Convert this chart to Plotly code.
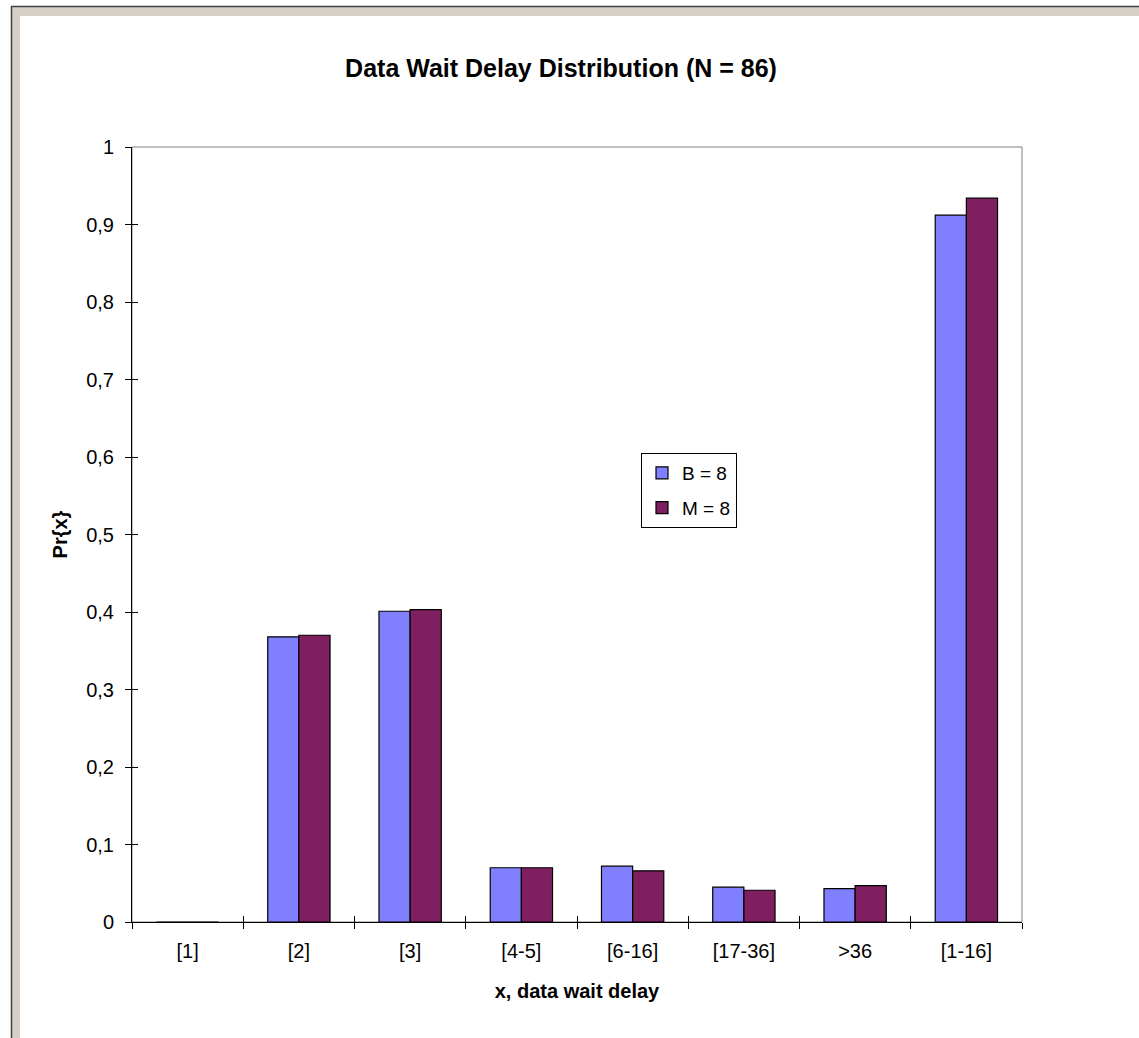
import plotly.graph_objects as go

# Delay buckets and probability per configuration
categories = ["[1]", "[2]", "[3]", "[4-5]", "[6-16]", "[17-36]", ">36", "[1-16]"]
b8_values = [0.0, 0.368, 0.401, 0.070, 0.072, 0.045, 0.043, 0.912]
m8_values = [0.0, 0.370, 0.403, 0.070, 0.066, 0.041, 0.047, 0.934]
y_ticks = [0, 0.1, 0.2, 0.3, 0.4, 0.5, 0.6, 0.7, 0.8, 0.9, 1]

FONT = "Liberation Sans, Arial, sans-serif"
W, H = 1139, 1038
L, R, T, B = 132, 117, 147, 116
pw, ph = W - L - R, H - T - B


def px_x(p):
    return (p - L) / pw


def px_y(p):
    return (H - B - p) / ph


fig = go.Figure()
fig.add_trace(go.Bar(
    x=categories, y=b8_values, name="B = 8", legendgroup="b",
    marker=dict(color="#8080FF", line=dict(color="#000000", width=1.2)),
))
fig.add_trace(go.Bar(
    x=categories, y=m8_values, name="M = 8", legendgroup="m",
    marker=dict(color="#7F1F5F", line=dict(color="#000000", width=1.2)),
))
# helper trace for the overlay axes (inner half of the crossing ticks)
fig.add_trace(go.Scatter(
    x=categories, y=[None] * len(categories), xaxis="x2", yaxis="y2",
    showlegend=False, hoverinfo="skip", mode="markers",
))

fig.update_layout(
    width=W, height=H,
    margin=dict(l=L, r=R, t=T, b=B),
    paper_bgcolor="white", plot_bgcolor="white",
    separators=", ",
    barmode="group", bargap=0.44, bargroupgap=0,
    font=dict(family=FONT, size=19, color="#000000"),
    title=dict(
        text="<b>Data Wait Delay Distribution (N = 86)</b>",
        font=dict(family=FONT, size=25, color="#000000"),
        x=561 / W, xref="container", xanchor="center",
        y=1 - 68 / H, yref="container", yanchor="middle",
    ),
    xaxis=dict(
        type="category", categoryorder="array", categoryarray=categories,
        range=[-0.5, len(categories) - 0.5],
        showline=True, linecolor="#000000", linewidth=1,
        ticks="outside", tickson="boundaries", ticklen=6, tickcolor="#000000",
        ticklabelstandoff=11, tickfont=dict(size=20),
        showgrid=False, zeroline=False,
        title=dict(text="<b>x, data wait delay</b>", standoff=22,
                   font=dict(family=FONT, size=20)),
    ),
    yaxis=dict(
        range=[0, 1], tickvals=y_ticks, tickformat=".1~f",
        showline=True, linecolor="#000000", linewidth=1,
        ticks="outside", ticklen=6, tickcolor="#000000",
        ticklabelstandoff=7, tickfont=dict(size=20),
        showgrid=False, zeroline=False,
        title=dict(text="<b>Pr{x}</b>", standoff=13,
                   font=dict(family=FONT, size=20)),
    ),
    xaxis2=dict(
        type="category", categoryorder="array", categoryarray=categories,
        range=[-0.5, len(categories) - 0.5], overlaying="x", anchor="y2",
        ticks="inside", tickson="boundaries", ticklen=6, tickcolor="#000000",
        showticklabels=False, showline=False, showgrid=False, zeroline=False,
    ),
    yaxis2=dict(
        range=[0, 1], tickvals=y_ticks, overlaying="y", anchor="x2", side="left",
        ticks="inside", ticklen=6, tickcolor="#000000",
        showticklabels=False, showline=False, showgrid=False, zeroline=False,
    ),
    legend=dict(
        x=px_x(641), y=px_y(453), xanchor="left", yanchor="top",
        bgcolor="white", bordercolor="#000000", borderwidth=1,
        font=dict(family=FONT, size=19),
        traceorder="grouped", tracegroupgap=7,
        itemwidth=30,
    ),
    shapes=[
        # plot area frame (top/right in gray)
        dict(type="rect", xref="paper", yref="paper", x0=0, x1=1, y0=0, y1=1,
             line=dict(color="#808080", width=1), layer="below"),
        # window edge band at the left and top
        dict(type="rect", xref="paper", yref="paper",
             x0=px_x(11), x1=px_x(20), y0=px_y(H), y1=px_y(6),
             fillcolor="#D6CFC7", line=dict(width=0), layer="below"),
        dict(type="rect", xref="paper", yref="paper",
             x0=px_x(11), x1=px_x(W + 5), y0=px_y(16), y1=px_y(6),
             fillcolor="#D6CFC7", line=dict(width=0), layer="below"),
        dict(type="line", xref="paper", yref="paper",
             x0=px_x(11.5), x1=px_x(11.5), y0=px_y(H), y1=px_y(6),
             line=dict(color="#404040", width=1.5), layer="below"),
        dict(type="line", xref="paper", yref="paper",
             x0=px_x(11), x1=px_x(W + 5), y0=px_y(6.5), y1=px_y(6.5),
             line=dict(color="#404040", width=1.5), layer="below"),
    ],
)

fig.write_html("out.html")
